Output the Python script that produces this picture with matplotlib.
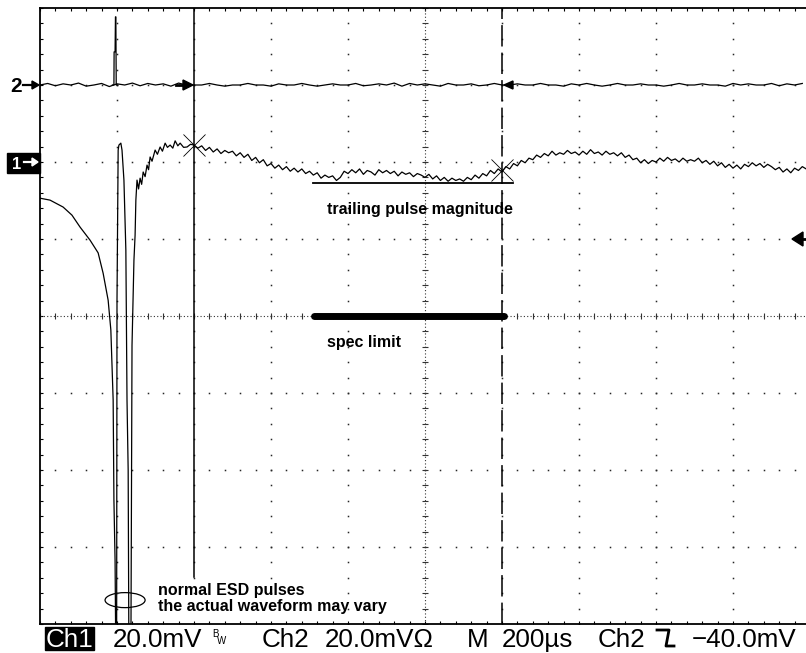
import numpy as np
import matplotlib.pyplot as plt
from matplotlib.patches import Ellipse, Rectangle, Polygon
from matplotlib.lines import Line2D
from matplotlib.transforms import Affine2D

# screen settings: 200 us/div, 20 mV/div, ch1 ground at 0 mV, ch2 ground one div higher
t_div = 200
v_div = 20
ch2_offset = 20
trig_level = -20

# ch1: the two ESD pulses and the recovery (time in us, value in mV)
pulse_t = [0, 26, 60, 83, 104, 130, 151, 164, 177, 184,
           190, 192, 195, 197, 199, 200, 203, 205, 210, 213,
           218, 223, 226, 229, 231, 236, 239, 244, 247, 249,
           252, 256, 260, 264, 268, 273, 278, 282, 286, 291,
           299, 305, 312, 318, 325, 331, 338, 345, 351, 358,
           364, 373, 382, 391]
pulse_mv = [-9.4, -9.9, -11.7, -13.8, -16.9, -20.3, -23.6, -28.9, -35.9, -43.6,
            -61.8, -87.8, -103.5, -130, -130, -35.9, 3.1, 4.4, 4.9, 3.1,
            -4.7, -22.9, -61.9, -80, -130, -130, -47.6, -25.5, -19, -9.9,
            -4.7, -7.0, -4.2, -5.8, -2.6, -3.8, -0.8, -2.0, 1.3, 0.2,
            3.1, 2.0, 3.9, 2.8, 4.9, 3.8, 4.4, 3.6, 5.5, 4.2,
            4.9, 3.8, 3.9, 4.6]

# ch1 tail, sampled every 10 us from 400 us
tail_mv = [4.4, 3.6, 4.2, 3.0, 3.8, 2.6, 3.4, 2.2, 3.0, 2.4,
           2.8, 1.6, 2.4, 1.2, 2.0, 0.4, 1.2, -0.2, 0.6, -1.0,
           -0.4, -1.6, -0.8, -2.0, -1.2, -2.4, -1.6, -2.6, -1.8, -3.0,
           -2.4, -3.4, -2.8, -4.2, -3.4, -4.0, -3.6, -4.8, -4.0, -2.4,
           -3.0, -2.0, -2.8, -1.8, -3.2, -2.2, -2.6, -3.4, -2.0, -2.8,
           -2.2, -3.0, -2.4, -3.6, -2.6, -3.2, -2.8, -3.8, -3.0, -3.4,
           -4.0, -3.2, -4.4, -3.6, -4.8, -4.0, -5.0, -4.2, -4.8, -4.4,
           -5.0, -4.0, -4.6, -3.4, -4.2, -3.0, -3.6, -2.2, -3.0, -1.8,
           -2.6, -1.2, -1.8, -0.4, -1.0, 0.4, -0.2, 1.0, 0.6, 1.8,
           1.2, 2.2, 1.6, 2.8, 1.8, 2.4, 2.0, 3.0, 2.2, 2.6,
           1.8, 2.8, 2.0, 3.2, 2.2, 2.6, 1.8, 2.8, 2.0, 2.4,
           1.6, 2.4, 1.2, 1.8, 0.6, 1.0, -0.2, 0.6, -0.4, 0.4,
           0.0, 1.0, 0.2, 1.2, 0.4, 0.8, 0.0, 1.0, 0.2, 0.6,
           0.2, 1.0, -0.2, 0.4, -0.6, 0.2, -1.0, -0.2, -1.4, -0.6,
           -1.6, -0.8, -1.8, -0.6, -1.2, -0.2, -1.0, -0.4, -1.4, -0.6,
           -1.2, -2.0, -1.4, -2.6, -1.8, -2.8, -1.6, -2.2, -1.2, -1.8]
tail_t = np.arange(400, 2000, 10)

# ch2, sampled every 20 us, plus its spike
ch2_mv = [0.0, 0.4, -0.2, 0.3, 0.0, 0.5, -0.3, 0.0, 0.4, -0.4,
          0.3, 0.0, 0.5, -0.2, 0.4, 0.0, 0.3, -0.3, 0.5, 0.0,
          0.0, 0.0, 0.4, 0.0, -0.3, 0.0, 0.0, 0.4, 0.0, 0.0,
          -0.3, 0.3, 0.0, 0.0, 0.4, 0.0, -0.3, 0.0, 0.3, 0.0,
          0.0, 0.4, -0.2, 0.0, 0.3, 0.0, 0.5, -0.3, 0.4, 0.0,
          0.3, 0.0, -0.3, 0.4, 0.0, 0.0, 0.3, -0.2, 0.0, 0.4,
          0.0, 0.0, 0.3, 0.0, 0.0, 0.4, 0.0, 0.0, -0.3, 0.3,
          0.0, 0.4, 0.0, -0.3, 0.0, 0.4, 0.0, 0.0, 0.3, 0.0,
          0.0, -0.3, 0.0, 0.4, 0.0, 0.0, 0.3, 0.0, 0.0, -0.3,
          0.4, 0.0, 0.3, 0.0, 0.0, 0.4, -0.2, 0.3, 0.0, 0.4]
ch2_t = np.arange(0, 2000, 20)
spike_t = [188, 192, 192.5, 195, 196, 197, 198, 200, 202]
spike_mv = [0, 0, 8.6, 8.6, 17.7, 17.7, 0, 0, 0]

# cursors and their readings
cursor_t = [400, 1200]
cursor_mv = [4.4, -2.1]
trailing_mv = -5.5
trailing_t = [709, 1228]
spec_mv = -40
spec_t = [712, 1205]

W, H = 806, 653
fig = plt.figure(figsize=(W / 100, H / 100), dpi=100)
pix = Affine2D().scale(1.0 / W, -1.0 / H).translate(0, 1) + fig.transFigure

ax = fig.add_axes([40 / W, (H - 624) / H, 770 / W, 616 / H])
ax.set_xlim(0, 10 * t_div)
ax.set_ylim(-6 * v_div, 2 * v_div)
for s in ax.spines.values():
    s.set_linewidth(1.3)
ax.set_xticks(np.arange(0, 2001, t_div / 5))
ax.set_yticks(np.arange(-120, 41, v_div / 5))
ax.tick_params(axis='both', direction='in', length=2.5, width=0.8, top=True,
               right=False, labelbottom=False, labelleft=False)

# graticule
xs = np.arange(0, 2001, t_div / 5)
ys = np.arange(-120, 41, v_div / 5)
for t in range(t_div, 2000, t_div):
    if t != 1000:
        ax.plot(np.full(len(ys), t), ys, 's', ms=1.1, mew=0, color='0.15')
for v in range(-100, 40, v_div):
    if v != -40:
        ax.plot(xs, np.full(len(xs), v), 's', ms=1.1, mew=0, color='0.15')
ax.axvline(1000, ls=(0, (1, 2)), lw=0.8, color='0.2')
ax.axhline(-40, ls=(0, (1, 2)), lw=0.8, color='0.2')
ax.plot(xs, np.full(len(xs), -40), '|', ms=4, mew=0.8, color='0.2')
ax.plot(np.full(len(ys), 1000), ys, '_', ms=4, mew=0.8, color='0.2')

# cursors
ax.plot([cursor_t[0], cursor_t[0]], [40, -107.8], color='black', lw=1.1)
ax.axvline(cursor_t[1], ls=(0, (14, 4)), lw=1.1, color='black')

# traces
ch1_t = np.concatenate([pulse_t, tail_t])
ch1_mv = np.concatenate([pulse_mv, tail_mv])
ax.plot(ch1_t, ch1_mv, color='black', lw=0.9)
ax.plot(ch2_t, np.array(ch2_mv) + ch2_offset, color='black', lw=0.9)
ax.plot(spike_t, np.array(spike_mv) + ch2_offset, color='black', lw=0.9)

ax.plot(cursor_t, cursor_mv, 'x', ms=16, mew=0.6, color='black')
ax.plot(trailing_t, [trailing_mv, trailing_mv], color='black', lw=1.3)
ax.plot(spec_t, [spec_mv, spec_mv], color='black', lw=5, solid_capstyle='round')
ax.add_patch(Ellipse((221, -113.8), width=104, height=3.9, fill=False,
                     lw=0.9, color='black'))

note = dict(family=['Liberation Sans', 'DejaVu Sans'], fontweight='bold',
            fontsize=11.5, va='baseline', ha='left')
ax.text(745, -13.5, 'trailing pulse magnitude', **note)
ax.text(745, -48.0, 'spec limit', **note)
ax.text(306, -112.5, 'normal ESD pulses', **note)
ax.text(306, -116.6, 'the actual waveform may vary', **note)

# channel markers on the left
fig.text(10, 92, '2', transform=pix, fontsize=15, fontweight='bold',
         family='Liberation Sans', va='baseline')
fig.add_artist(Line2D([23, 33], [85, 85], transform=pix, color='black', lw=1.6))
fig.add_artist(Polygon([(39, 85), (32, 81), (32, 89)], transform=pix, color='black'))
fig.add_artist(Rectangle((7, 153), 33, 20, transform=pix, color='black'))
fig.text(12, 169, '1', transform=pix, fontsize=12, fontweight='bold',
         family='Liberation Sans', va='baseline', color='white')
fig.add_artist(Line2D([24, 33], [162, 162], transform=pix, color='white', lw=1.6))
fig.add_artist(Polygon([(38, 162), (32, 158), (32, 166)], transform=pix, color='white'))

# small cursor arrows on ch2 and trigger arrow on the right
fig.add_artist(Line2D([176, 184], [85, 85], transform=pix, color='black', lw=2))
fig.add_artist(Polygon([(193, 85), (183, 80), (183, 90)], transform=pix, color='black'))
fig.add_artist(Polygon([(504, 85), (513, 81), (513, 89)], transform=pix, color='black'))
fig.add_artist(Polygon([(792, 239), (803, 232), (803, 246)], transform=pix, color='black'))
fig.add_artist(Line2D([802, 806], [239, 239], transform=pix, color='black', lw=2))

# status line
stat = dict(transform=pix, fontsize=18.7, family=['Liberation Sans', 'DejaVu Sans'],
            va='baseline', ha='left')
fig.add_artist(Rectangle((45, 627), 49, 23, transform=pix, color='black'))
fig.text(46, 647, 'Ch1', color='white', **stat)
fig.text(113, 647, '20.0mV', **stat)
fig.text(212, 637, 'B', transform=pix, fontsize=7, family='Liberation Sans', va='baseline')
fig.text(217, 644, 'W', transform=pix, fontsize=7, family='Liberation Sans', va='baseline')
fig.text(262, 647, 'Ch2', **stat)
fig.text(325, 647, '20.0mV\u03a9', **stat)
fig.text(467, 647, 'M', **stat)
fig.text(502, 647, '200\u00b5s', **stat)
fig.text(598, 647, 'Ch2', **stat)
fig.add_artist(Line2D([657, 669, 666, 674], [630, 630, 646, 646], transform=pix,
                      color='black', lw=2))
fig.text(692, 647, '\u221240.0mV', **stat)

fig.savefig('out.png', dpi=100)
